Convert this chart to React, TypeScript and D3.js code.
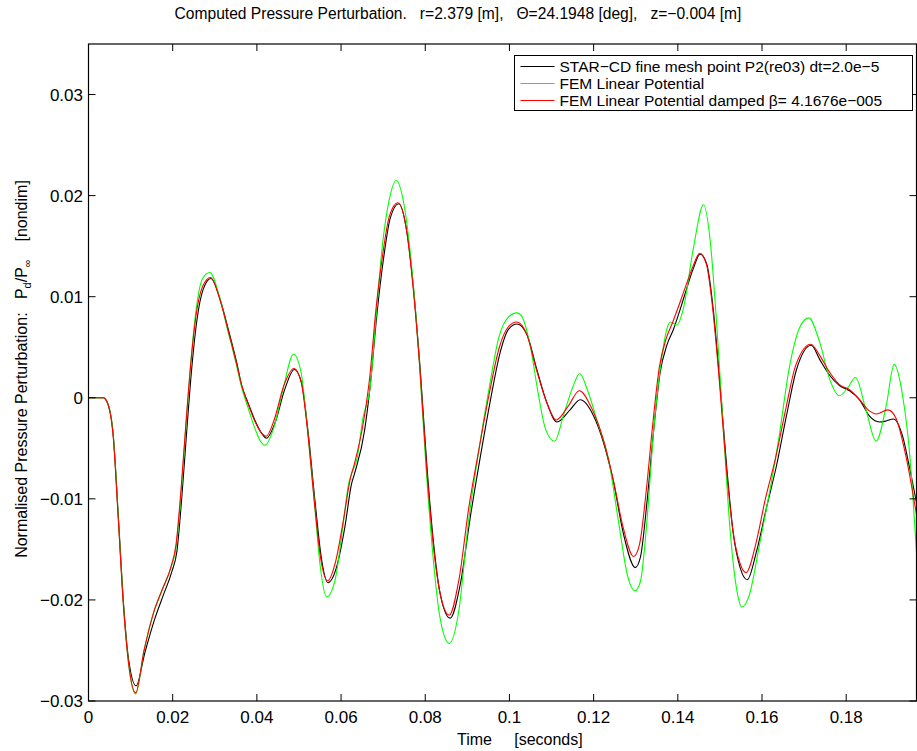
import React from 'react';
import * as d3 from 'd3';

const W = 917, H = 751;
const PL = 88.5, PR = 916.5, PT = 44, PB = 701;

const titleText = 'Computed Pressure Perturbation.   r=2.379 [m],   \u0398=24.1948 [deg],   z=\u22120.004 [m]';
const xLabelText = 'Time     [seconds]';
const xTicks = [0, 0.02, 0.04, 0.06, 0.08, 0.1, 0.12, 0.14, 0.16, 0.18];
const xTickLabels = ['0', '0.02', '0.04', '0.06', '0.08', '0.1', '0.12', '0.14', '0.16', '0.18'];
const yTicks = [-0.03, -0.02, -0.01, 0, 0.01, 0.02, 0.03];
const yTickLabels = ['\u22120.03', '\u22120.02', '\u22120.01', '0', '0.01', '0.02', '0.03'];
const legendLabels = [
  'STAR\u2212CD fine mesh point P2(re03) dt=2.0e\u22125',
  'FEM Linear Potential',
  'FEM Linear Potential damped \u03b2= 4.1676e\u2212005',
];
const seriesColors = ['#000000', '#00ff00', '#ff0000'];

// STAR-CD (black)
const starT = [0, 0.0035, 0.0045, 0.0059, 0.0071, 0.0083, 0.0095, 0.0113, 0.0134, 0.0158, 0.0178, 0.0198, 0.021, 0.0221, 0.0233, 0.0245, 0.0257, 0.0273, 0.0291, 0.0312, 0.0332, 0.0352, 0.0364, 0.0379, 0.0395, 0.0411, 0.0423, 0.0443, 0.0466, 0.0489, 0.0506, 0.0522, 0.0538, 0.0553, 0.0569, 0.0589, 0.0609, 0.0625, 0.0632, 0.0656, 0.067, 0.0685, 0.0701, 0.0717, 0.0737, 0.0756, 0.0772, 0.0788, 0.0804, 0.082, 0.0836, 0.0859, 0.0883, 0.0907, 0.0931, 0.0955, 0.0978, 0.0998, 0.1018, 0.1042, 0.1065, 0.1089, 0.1113, 0.1144, 0.1168, 0.12, 0.1224, 0.1248, 0.1271, 0.1299, 0.1311, 0.1327, 0.1342, 0.1358, 0.1374, 0.139, 0.1406, 0.1421, 0.1437, 0.1453, 0.1469, 0.1484, 0.15, 0.1516, 0.1532, 0.1548, 0.1565, 0.1587, 0.1611, 0.1634, 0.1658, 0.1682, 0.1717, 0.1737, 0.1761, 0.1784, 0.1808, 0.1832, 0.1855, 0.1879, 0.1895, 0.1912, 0.1934, 0.195, 0.1968];
const starV = [0, 0, -0.0005, -0.0038, -0.0118, -0.0202, -0.0258, -0.0285, -0.0252, -0.0218, -0.0195, -0.0172, -0.0152, -0.0102, -0.0035, 0.0028, 0.0075, 0.0108, 0.0118, 0.0098, 0.0068, 0.0035, 0.0012, -0.0005, -0.0022, -0.0035, -0.004, -0.0025, 0.0008, 0.0028, 0.0015, -0.0035, -0.0102, -0.0158, -0.0183, -0.0168, -0.0128, -0.0085, -0.0075, -0.0032, 0.0015, 0.0082, 0.0138, 0.0178, 0.0192, 0.0165, 0.0108, 0.0028, -0.0068, -0.0145, -0.0195, -0.0218, -0.0185, -0.0118, -0.0058, -0.0002, 0.0045, 0.0068, 0.0073, 0.0062, 0.0028, -0.0005, -0.0024, -0.0012, -0.0002, -0.0018, -0.0045, -0.0085, -0.0135, -0.0168, -0.0158, -0.0102, -0.0035, 0.0025, 0.0052, 0.0068, 0.0088, 0.0108, 0.0128, 0.0142, 0.0132, 0.0088, 0.0015, -0.0068, -0.0135, -0.0168, -0.018, -0.0152, -0.0108, -0.0068, -0.0018, 0.0028, 0.0052, 0.0038, 0.0022, 0.0012, 0.0007, -0.0002, -0.0018, -0.0024, -0.0023, -0.0021, -0.0038, -0.0068, -0.0106];

// FEM Linear Potential (green)
const femT = [0, 0.0035, 0.0045, 0.0059, 0.0071, 0.0083, 0.0095, 0.0112, 0.0132, 0.0155, 0.0175, 0.0196, 0.0208, 0.0219, 0.0231, 0.0243, 0.0255, 0.0271, 0.0288, 0.031, 0.033, 0.035, 0.0364, 0.0379, 0.0395, 0.041, 0.0419, 0.044, 0.0463, 0.0487, 0.0505, 0.052, 0.0536, 0.055, 0.0566, 0.0586, 0.0604, 0.0618, 0.0625, 0.0638, 0.0652, 0.0669, 0.0683, 0.0698, 0.0714, 0.0731, 0.075, 0.077, 0.0786, 0.0802, 0.0818, 0.0834, 0.0857, 0.088, 0.0902, 0.0928, 0.0952, 0.0975, 0.0998, 0.1018, 0.103, 0.105, 0.1068, 0.1085, 0.1107, 0.113, 0.115, 0.1167, 0.1185, 0.121, 0.1235, 0.126, 0.128, 0.1298, 0.1311, 0.1327, 0.1342, 0.1358, 0.1374, 0.1382, 0.1398, 0.1413, 0.1437, 0.1461, 0.1477, 0.1492, 0.1508, 0.1524, 0.154, 0.1552, 0.157, 0.1592, 0.1615, 0.164, 0.1665, 0.169, 0.1711, 0.1737, 0.1761, 0.1784, 0.1804, 0.1822, 0.1847, 0.1871, 0.1895, 0.1914, 0.1934, 0.195, 0.1968];
const femV = [0, 0, -0.0005, -0.0038, -0.012, -0.0205, -0.0262, -0.0293, -0.025, -0.0212, -0.019, -0.0168, -0.0148, -0.01, -0.003, 0.0035, 0.0085, 0.0118, 0.0124, 0.0102, 0.0068, 0.0035, 0.001, -0.001, -0.003, -0.0044, -0.0047, -0.003, 0.001, 0.0043, 0.0025, -0.003, -0.01, -0.0165, -0.0197, -0.018, -0.0128, -0.0085, -0.0075, -0.006, -0.002, 0.001, 0.008, 0.015, 0.0195, 0.0215, 0.019, 0.012, 0.0035, -0.007, -0.0155, -0.0215, -0.0243, -0.021, -0.0125, -0.005, 0.001, 0.006, 0.008, 0.0084, 0.008, 0.005, 0.0005, -0.003, -0.0043, -0.0015, 0.001, 0.0024, 0.0008, -0.0025, -0.006, -0.0125, -0.0175, -0.0191, -0.0182, -0.012, -0.0035, 0.0028, 0.0068, 0.0075, 0.0072, 0.0088, 0.0148, 0.0191, 0.0155, 0.0075, -0.003, -0.013, -0.019, -0.0207, -0.0195, -0.015, -0.01, -0.004, 0.003, 0.007, 0.0079, 0.0055, 0.0018, 0.0002, 0.001, 0.002, -0.0012, -0.0043, -0.0008, 0.0033, 0.0002, -0.0052, -0.016];

// FEM Linear Potential damped (red)
const dampT = [0, 0.0035, 0.0045, 0.0059, 0.0071, 0.0083, 0.0095, 0.0112, 0.0132, 0.0155, 0.0175, 0.0196, 0.0208, 0.0219, 0.0231, 0.0243, 0.0255, 0.0271, 0.029, 0.0311, 0.0331, 0.0351, 0.0364, 0.0379, 0.0395, 0.0411, 0.0422, 0.0441, 0.0464, 0.0488, 0.0505, 0.0521, 0.0537, 0.0552, 0.0568, 0.0587, 0.0606, 0.0622, 0.0632, 0.0654, 0.0668, 0.0683, 0.0699, 0.0715, 0.0735, 0.0755, 0.0771, 0.0787, 0.0803, 0.0819, 0.0835, 0.0857, 0.088, 0.0903, 0.0928, 0.0952, 0.0976, 0.0997, 0.1017, 0.1041, 0.1064, 0.1088, 0.1111, 0.114, 0.1166, 0.1195, 0.1222, 0.1246, 0.127, 0.1295, 0.1309, 0.1325, 0.134, 0.1356, 0.1372, 0.1388, 0.1404, 0.142, 0.1436, 0.1452, 0.1468, 0.1483, 0.1499, 0.1515, 0.1531, 0.1547, 0.1562, 0.1585, 0.1608, 0.1632, 0.1656, 0.168, 0.1716, 0.1737, 0.1761, 0.1784, 0.1808, 0.1832, 0.1855, 0.1871, 0.1899, 0.1918, 0.1942, 0.1968];
const dampV = [0, 0, -0.0005, -0.004, -0.0122, -0.0206, -0.0262, -0.0292, -0.025, -0.0212, -0.019, -0.0167, -0.0145, -0.0095, -0.0028, 0.0034, 0.008, 0.011, 0.0119, 0.0099, 0.0068, 0.0035, 0.0012, -0.0006, -0.0023, -0.0035, -0.0038, -0.0022, 0.0012, 0.0029, 0.0016, -0.0035, -0.0105, -0.016, -0.0181, -0.0162, -0.012, -0.008, -0.0065, -0.0022, 0.002, 0.0088, 0.0142, 0.018, 0.0193, 0.0167, 0.011, 0.003, -0.0068, -0.0145, -0.0193, -0.0215, -0.018, -0.011, -0.005, 0.0004, 0.005, 0.007, 0.0075, 0.0063, 0.0028, -0.0004, -0.0022, -0.0008, 0.0007, -0.001, -0.004, -0.008, -0.0128, -0.0157, -0.0145, -0.0092, -0.0028, 0.003, 0.0058, 0.0075, 0.0093, 0.0112, 0.013, 0.0143, 0.0132, 0.0088, 0.0015, -0.0068, -0.0132, -0.0163, -0.0173, -0.0145, -0.01, -0.006, -0.0012, 0.0032, 0.0053, 0.0042, 0.0025, 0.0013, 0.0008, -0.0002, -0.0013, -0.0016, -0.0012, -0.002, -0.0058, -0.0118];

const FONT = '"Liberation Sans", Arial, Helvetica, sans-serif';

export default function App() {
  const x = d3.scaleLinear().domain([0, 0.1967]).range([PL, PR]);
  const y = d3.scaleLinear().domain([-0.03, 0.035]).range([PB, PT]);
  const line = d3.line<[number, number]>()
    .x(d => x(d[0]))
    .y(d => y(d[1]))
    .curve(d3.curveMonotoneX);
  const series = [
    starT.map((t, i) => [t, starV[i]] as [number, number]),
    femT.map((t, i) => [t, femV[i]] as [number, number]),
    dampT.map((t, i) => [t, dampV[i]] as [number, number]),
  ];
  const tickLen = 7;
  const legX = 514.5, legY = 55.5, legW = 398, legH = 55;
  const legStep = 17;

  return (
    <svg width={W} height={H} style={{ position: 'absolute', left: 0, top: 0, background: '#fff' }}
      fontFamily={FONT}>
      <rect x={0} y={0} width={W} height={H} fill="#fff" />
      <defs>
        <clipPath id="plotclip">
          <rect x={PL} y={PT} width={PR - PL} height={PB - PT} />
        </clipPath>
      </defs>
      <text x={458} y={19} fontSize={15.6} textAnchor="middle" fill="#000" xmlSpace="preserve"
        style={{ whiteSpace: 'pre' }}>{titleText}</text>

      <g clipPath="url(#plotclip)">
        {series.map((s, i) => (
          <path key={i} d={line(s) || ''} fill="none" stroke={seriesColors[i]} strokeWidth={1.1} />
        ))}
      </g>

      {/* axes box */}
      <rect x={PL} y={PT} width={PR - PL} height={PB - PT} fill="none" stroke="#000" strokeWidth={1.2} />
      {xTicks.map((t, i) => (
        <g key={'xt' + i}>
          <line x1={x(t)} x2={x(t)} y1={PB} y2={PB - tickLen} stroke="#000" />
          <line x1={x(t)} x2={x(t)} y1={PT} y2={PT + tickLen} stroke="#000" />
          <text x={x(t)} y={723} fontSize={17} textAnchor="middle" fill="#000">{xTickLabels[i]}</text>
        </g>
      ))}
      {yTicks.map((v, i) => (
        <g key={'yt' + i}>
          <line x1={PL} x2={PL + tickLen} y1={y(v)} y2={y(v)} stroke="#000" />
          <line x1={PR} x2={PR - tickLen} y1={y(v)} y2={y(v)} stroke="#000" />
          <text x={83} y={y(v) + 6} fontSize={17} textAnchor="end" fill="#000">{yTickLabels[i]}</text>
        </g>
      ))}

      <text x={457} y={745} fontSize={16} fill="#000" xmlSpace="preserve" style={{ whiteSpace: 'pre' }}>{xLabelText}</text>

      <text transform="translate(27,369) rotate(-90)" fontSize={16} textAnchor="middle" fill="#000"
        xmlSpace="preserve" style={{ whiteSpace: 'pre' }}>
        <tspan>{'Normalised Pressure Perturbation:   P'}</tspan>
        <tspan fontSize={11} dy={4}>d</tspan>
        <tspan dy={-4}>{'/P'}</tspan>
        <tspan fontSize={11} dy={4}>{'\u221e'}</tspan>
        <tspan dy={-4}>{'    [nondim]'}</tspan>
      </text>

      {/* legend */}
      <rect x={legX} y={legY} width={legW} height={legH} fill="#fff" stroke="#000" strokeWidth={1} />
      {legendLabels.map((lab, i) => (
        <g key={'lg' + i}>
          <line x1={legX + 6} x2={legX + 40} y1={legY + 11 + i * legStep} y2={legY + 11 + i * legStep}
            stroke={seriesColors[i]} strokeWidth={1.2} />
          <text x={legX + 45} y={legY + 16.5 + i * legStep} fontSize={15.5} fill="#000">{lab}</text>
        </g>
      ))}
    </svg>
  );
}
